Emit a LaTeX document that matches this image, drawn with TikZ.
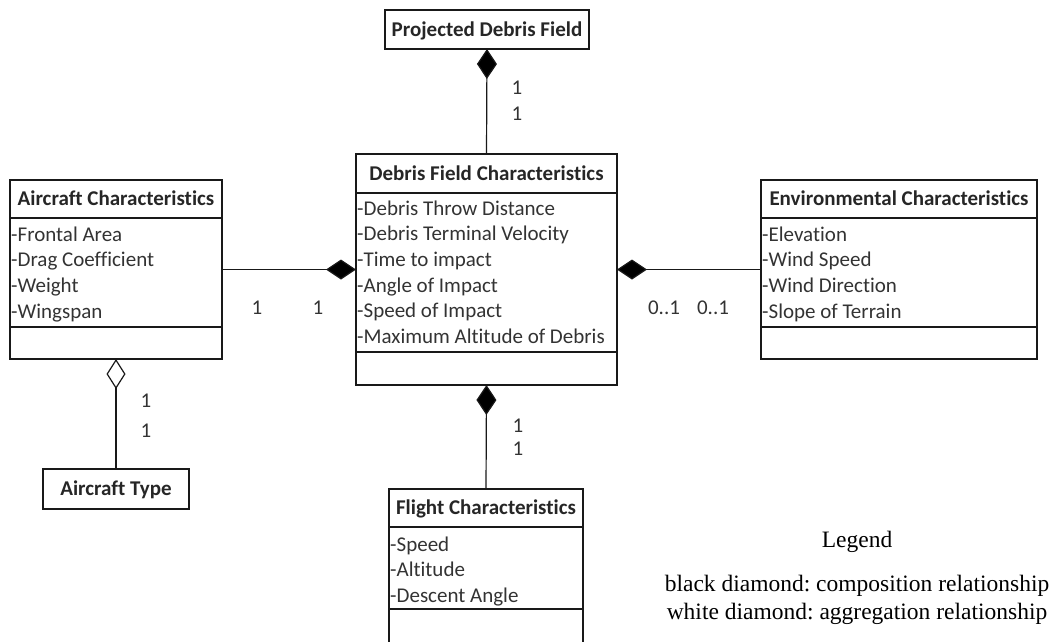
\documentclass[tikz,border=0pt]{standalone}
\usepackage{fontspec}
\setmainfont{Carlito}[Ligatures={NoCommon,NoRare,NoContextual}]
\newfontfamily\legendfont{Liberation Serif}
\usetikzlibrary{arrows.meta}
\begin{document}
\frenchspacing
\begin{tikzpicture}[x=1pt,y=-1pt,
  box/.style={draw=black!90, line width=1.2pt, anchor=north west, inner sep=0pt, outer sep=0pt,
    text height=16pt, text depth=2.4pt},
  hdr/.style={font=\bfseries\fontsize{21}{25}\selectfont, text=black!85},
  attr/.style={font=\fontsize{21}{25}\selectfont, text=black!80, anchor=base west, inner sep=0pt},
  mult/.style={font=\fontsize{21}{25}\selectfont, text=black!80, inner sep=0pt},
  legend/.style={font=\legendfont\frenchspacing\fontsize{23.5}{28}\selectfont, text=black, inner sep=0pt, anchor=base},
  conn/.style={draw=black!90, line width=1.2pt},
  comp/.style={{Diamond[length=30pt,width=20pt,fill=black]}-},
  agg/.style={{Diamond[length=30pt,width=19pt,fill=white]}-}
]
\useasboundingbox (0,0) rectangle (1064,641);

% Projected Debris Field
\node[box, hdr, minimum width=204, minimum height=39] (pdf) at (385,10) {Projected Debris Field};

% Aircraft Characteristics
\node[box, hdr, minimum width=212, minimum height=38] (ac) at (10,180) {Aircraft Characteristics};
\node[box, minimum width=212, minimum height=109] (acA) at (ac.south west) {};
\node[box, minimum width=212, minimum height=32] (acO) at (acA.south west) {};
\foreach \t [count=\i] in {-Frontal Area,-Drag Coefficient,-Weight,-Wingspan}
  \node[attr] (acA\i) at (11,{234+25.7*(\i-1)+7}) {\t};

% Debris Field Characteristics
\node[box, hdr, minimum width=261, minimum height=39] (df) at (356,154) {Debris Field Characteristics};
\node[box, minimum width=261, minimum height=159] (dfA) at (df.south west) {};
\node[box, minimum width=261, minimum height=33] (dfO) at (dfA.south west) {};
\foreach \t [count=\i] in {-Debris Throw Distance,-Debris Terminal Velocity,-Time to impact,-Angle of Impact,-Speed of Impact,-Maximum Altitude of Debris}
  \node[attr] (dfA\i) at (357,{208+25.7*(\i-1)+7}) {\t};

% Environmental Characteristics
\node[box, hdr, minimum width=276, minimum height=38] (env) at (761,180) {Environmental Characteristics};
\node[box, minimum width=276, minimum height=109] (envA) at (env.south west) {};
\node[box, minimum width=276, minimum height=32] (envO) at (envA.south west) {};
\foreach \t [count=\i] in {-Elevation,-Wind Speed,-Wind Direction,-Slope of Terrain}
  \node[attr] (envA\i) at (762,{234+25.7*(\i-1)+7}) {\t};

% Flight Characteristics
\node[box, hdr, minimum width=194, minimum height=38] (fl) at (389,489) {Flight Characteristics};
\node[box, minimum width=194, minimum height=82] (flA) at (fl.south west) {};
\node[box, minimum width=194, minimum height=40] (flO) at (flA.south west) {};
\foreach \t [count=\i] in {-Speed,-Altitude,-Descent Angle}
  \node[attr] (flA\i) at (390,{544+25.7*(\i-1)+7}) {\t};

% Aircraft Type
\node[box, hdr, minimum width=146, minimum height=40] (at) at (43,469) {Aircraft Type};

% Connectors
\draw[conn, comp] (pdf.south) -- (df.north);
\draw[conn, comp] ([yshift=3pt]dfA.west) -- ([yshift=3pt]acA.east);
\draw[conn, comp] ([yshift=3pt]dfA.east) -- ([yshift=3pt]envA.west);
\draw[conn, comp] (dfO.south) -- (fl.north);
\draw[conn, agg] (acO.south) -- (at.north);

% Multiplicities
\node[mult] (m1) at (517,88) {1};
\node[mult] (m2) at (517,114) {1};
\node[mult] (m3) at (257,308) {1};
\node[mult] (m4) at (318,308) {1};
\node[mult] (m5) at (664,308) {0..1};
\node[mult] (m6) at (713,308) {0..1};
\node[mult] (m7) at (518,426) {1};
\node[mult] (m8) at (518,449) {1};
\node[mult] (m9) at (146,401) {1};
\node[mult] (m10) at (146,431) {1};

% Legend
\node[legend] (lg) at (857,547) {Legend};
\node[legend] (lg1) at (857,591) {black diamond: composition relationship};
\node[legend] (lg2) at (857,619) {white diamond: aggregation relationship};
\end{tikzpicture}
\end{document}
